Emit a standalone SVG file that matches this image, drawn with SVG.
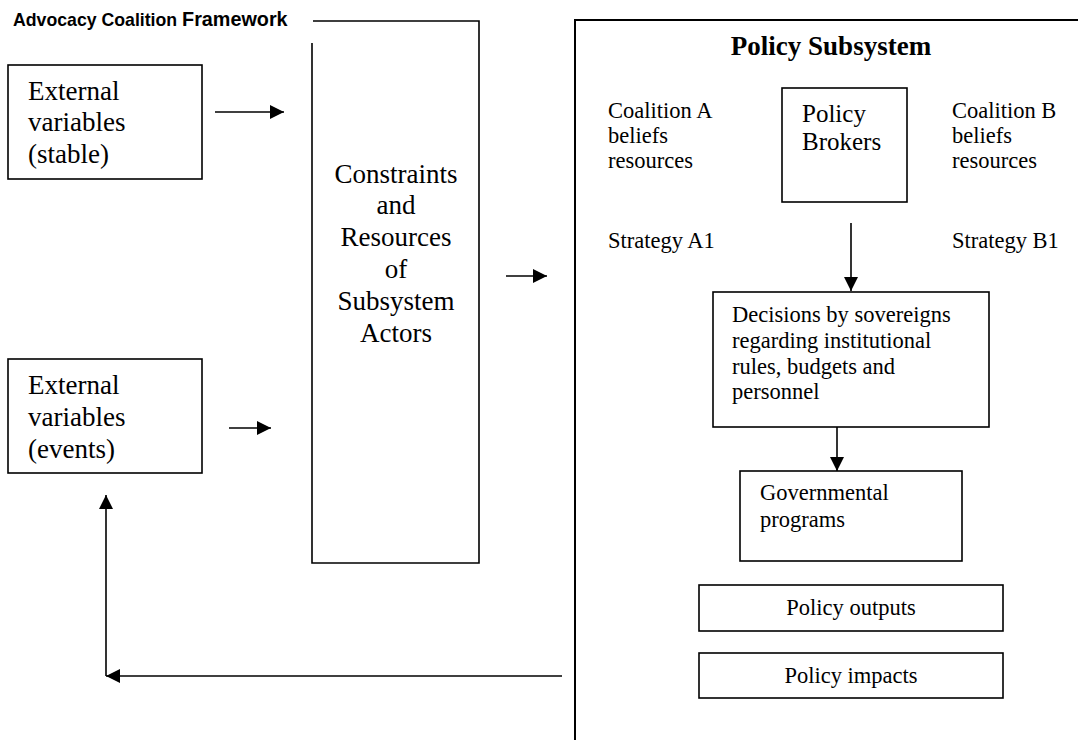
<svg xmlns="http://www.w3.org/2000/svg" width="1078" height="740" viewBox="0 0 1078 740">
  <style>
    .box { fill: none; stroke: #000; stroke-width: 1.6; }
    .frame { fill: none; stroke: #000; stroke-width: 2; }
    .conn { fill: none; stroke: #000; stroke-width: 1.6; marker-end: url(#arrow); }
    .t27 { font-family: "Liberation Serif", "Times New Roman", serif; font-size: 27px; fill: #000; }
    .t25 { font-family: "Liberation Serif", "Times New Roman", serif; font-size: 25px; fill: #000; }
    .t22 { font-family: "Liberation Serif", "Times New Roman", serif; font-size: 22.5px; fill: #000; }
    .head { font-family: "Liberation Serif", "Times New Roman", serif; font-size: 27px; font-weight: bold; fill: #000; }
    .title { font-family: "Liberation Sans", Arial, sans-serif; font-weight: bold; fill: #000; }
    .mid { text-anchor: middle; }
  </style>
  <defs>
    <marker id="arrow" viewBox="0 0 14 14" refX="14" refY="7" markerWidth="14" markerHeight="14" markerUnits="userSpaceOnUse" orient="auto">
      <path d="M0,0 L14,7 L0,14 z" fill="#000"/>
    </marker>
  </defs>

  <rect width="1078" height="740" fill="#fff"/>

  <g id="title">
    <text class="title" x="13" y="26"><tspan font-size="17.7px">Advocacy Coalition </tspan><tspan font-size="19.8px">Framework</tspan></text>
  </g>

  <g id="ext-stable">
    <rect class="box" x="8" y="65" width="194" height="114"/>
    <text class="t27" x="28" y="100">External</text>
    <text class="t27" x="28" y="131">variables</text>
    <text class="t27" x="28" y="163">(stable)</text>
  </g>

  <g id="ext-events">
    <rect class="box" x="8" y="359" width="194" height="114"/>
    <text class="t27" x="28" y="394">External</text>
    <text class="t27" x="28" y="426">variables</text>
    <text class="t27" x="28" y="458">(events)</text>
  </g>

  <g id="constraints">
    <path class="box" d="M313,21 H479 V563 H312 V43"/>
    <text class="t27 mid" x="396" y="183">Constraints</text>
    <text class="t27 mid" x="396" y="214">and</text>
    <text class="t27 mid" x="396" y="246">Resources</text>
    <text class="t27 mid" x="396" y="278">of</text>
    <text class="t27 mid" x="396" y="310">Subsystem</text>
    <text class="t27 mid" x="396" y="342">Actors</text>
  </g>

  <g id="policy-subsystem">
    <path class="frame" d="M1078,20 H575 V740"/>
    <text class="head mid" x="831" y="55">Policy Subsystem</text>
  </g>

  <g id="coalition-a">
    <text class="t22" x="608" y="118">Coalition A</text>
    <text class="t22" x="608" y="143">beliefs</text>
    <text class="t22" x="608" y="168">resources</text>
    <text class="t22" x="608" y="248">Strategy A1</text>
  </g>

  <g id="coalition-b">
    <text class="t22" x="952" y="118">Coalition B</text>
    <text class="t22" x="952" y="143">beliefs</text>
    <text class="t22" x="952" y="168">resources</text>
    <text class="t22" x="952" y="248">Strategy B1</text>
  </g>

  <g id="brokers">
    <rect class="box" x="782" y="88" width="125" height="114"/>
    <text class="t25" x="802" y="122">Policy</text>
    <text class="t25" x="802" y="150">Brokers</text>
  </g>

  <g id="decisions">
    <rect class="box" x="713" y="292" width="276" height="135"/>
    <text class="t22" x="732" y="322">Decisions by sovereigns</text>
    <text class="t22" x="732" y="348">regarding institutional</text>
    <text class="t22" x="732" y="374">rules, budgets and</text>
    <text class="t22" x="732" y="399">personnel</text>
  </g>

  <g id="programs">
    <rect class="box" x="740" y="471" width="222" height="90"/>
    <text class="t22" x="760" y="500">Governmental</text>
    <text class="t22" x="760" y="527">programs</text>
  </g>

  <g id="outputs">
    <rect class="box" x="699" y="585" width="304" height="46"/>
    <text class="t22 mid" x="851" y="615">Policy outputs</text>
  </g>

  <g id="impacts">
    <rect class="box" x="699" y="653" width="304" height="45"/>
    <text class="t22 mid" x="851" y="683">Policy impacts</text>
  </g>

  <g id="connectors">
    <line class="conn" x1="215" y1="112" x2="284" y2="112"/>
    <line class="conn" x1="229" y1="428" x2="271" y2="428"/>
    <line class="conn" x1="506" y1="276" x2="547" y2="276"/>
    <line class="conn" x1="851" y1="223" x2="851" y2="291"/>
    <line class="conn" x1="837" y1="427" x2="837" y2="471"/>
    <line class="conn" x1="562" y1="676" x2="106" y2="676"/>
    <line class="conn" x1="106" y1="676" x2="106" y2="495"/>
  </g>
</svg>
